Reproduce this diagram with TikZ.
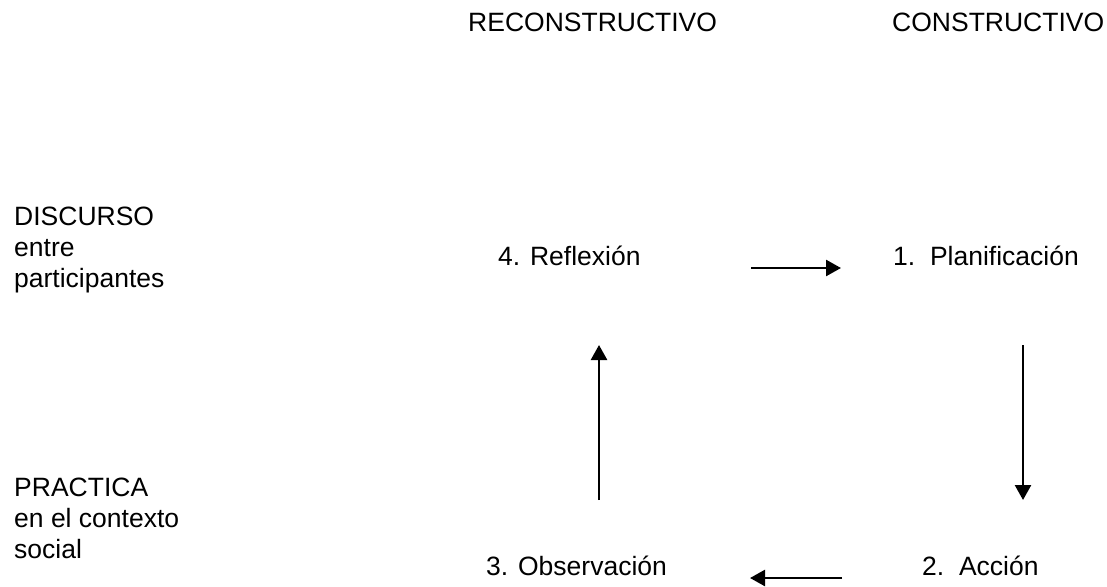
\documentclass[tikz,border=0pt]{standalone}
\usepackage{fontspec}
\setmainfont{Liberation Sans}
\usetikzlibrary{arrows.meta}

\begin{document}
\begin{tikzpicture}[x=1pt, y=-1pt,
    label/.style={font=\fontsize{26.5}{31}\selectfont, inner sep=0pt, anchor=base west},
    block/.style={label, align=left, anchor=north west},
    flow/.style={-{Triangle[length=15pt, width=16pt]}, line width=2.5pt}]
    \useasboundingbox (0,0) rectangle (1107,586);

    % Column headings
    \node[label] (recon) at (468,32) {RECONSTRUCTIVO};
    \node[label] (constr) at (892,32) {CONSTRUCTIVO};

    % Row headings
    \node[block] (discurso) at (14,207) {DISCURSO\\entre\\participantes};
    \node[block] (practica) at (14,478) {PRACTICA\\en el contexto\\social};

    % Cycle steps
    \node[label] (reflexion) at (498,265) {4. Reflexión};
    \node[label] (planif) at (893,265) {1.\ \ Planificación};
    \node[label] (accion) at (922,575) {2.\ \ Acción};
    \node[label] (observ) at (486,575) {3. Observación};

    % Arrow ends
    \coordinate (r1) at (751,268);
    \coordinate (r2) at (841,268);
    \coordinate (d1) at (1023,345);
    \coordinate (d2) at (1023,500);
    \coordinate (l1) at (842,578);
    \coordinate (l2) at (750,578);
    \coordinate (u1) at (599,500);
    \coordinate (u2) at (599,345);

    % Arrows
    \draw[flow] (r1) -- (r2);
    \draw[flow] (d1) -- (d2);
    \draw[flow] (l1) -- (l2);
    \draw[flow] (u1) -- (u2);
\end{tikzpicture}
\end{document}
